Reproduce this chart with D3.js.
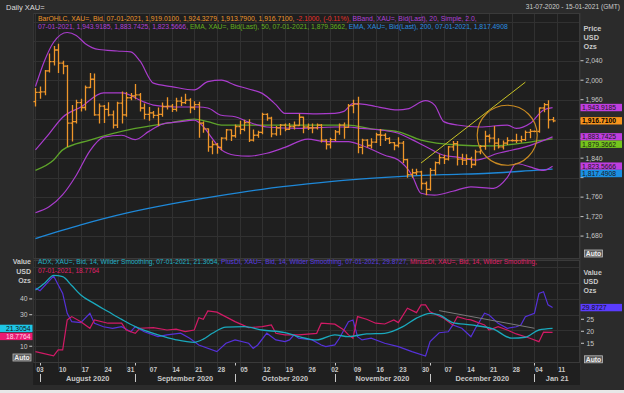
<!DOCTYPE html>
<html><head><meta charset="utf-8">
<script src="https://cdn.jsdelivr.net/npm/d3@7"></script>
<style>
html,body{margin:0;padding:0;background:#2b2b2b;}
svg{display:block;}
text{font-family:"Liberation Sans",Arial,sans-serif;}
</style></head>
<body><svg id="c" width="624" height="393"></svg>
<script>
// ---------------- DATA ----------------
const barOpen  = [1956,1975,1976,2019,2038,2062,2035,2029,1912,1915,1954,1944,1985,2002,1929,1947,1940,1929,1908,1953,1929,1964,1968,1970,1943,1930,1933,1928,1930,1946,1947,1940,1957,1954,1959,1944,1950,1912,1900,1863,1868,1862,1881,1898,1886,1905,1899,1913,1877,1887,1893,1930,1922,1890,1902,1908,1899,1905,1907,1924,1904,1902,1902,1908,1877,1868,1878,1894,1908,1903,1948,1951,1862,1877,1866,1873,1888,1887,1880,1872,1866,1871,1837,1806,1810,1812,1788,1776,1815,1831,1841,1838,1863,1870,1838,1836,1839,1827,1853,1864,1885,1881,1871,1863,1871,1876,1876,1876,1878,1893,1895,1895,1943,1950,1919.01];
const barHigh  = [1984,1987,2021,2055,2070,2075,2040,2031,1949,1960,1962,1989,2015,2014,1952,1949,1955,1938,1956,1977,1976,1974,1992,1974,1952,1945,1937,1944,1954,1965,1951,1964,1966,1972,1963,1957,1956,1915,1901,1876,1871,1883,1900,1899,1909,1917,1919,1920,1899,1896,1933,1932,1925,1906,1910,1911,1912,1915,1931,1925,1911,1911,1911,1910,1879,1882,1898,1911,1913,1951,1960,1966,1880,1879,1881,1892,1900,1891,1883,1873,1883,1875,1839,1818,1818,1814,1792,1820,1833,1848,1847,1865,1875,1875,1849,1848,1843,1857,1867,1896,1889,1906,1881,1876,1883,1879,1890,1886,1897,1900,1897,1944,1953,1959,1924.33];
const barLow   = [1946,1962,1969,2016,2030,2015,2012,1863,1874,1911,1936,1938,1984,1927,1911,1912,1926,1901,1902,1911,1925,1959,1961,1936,1920,1917,1922,1906,1925,1940,1935,1936,1947,1951,1932,1939,1882,1892,1853,1848,1849,1856,1876,1875,1882,1889,1895,1873,1874,1882,1889,1917,1883,1886,1887,1895,1898,1899,1906,1891,1898,1891,1899,1872,1858,1860,1875,1888,1880,1902,1932,1850,1848,1862,1860,1871,1865,1875,1869,1856,1862,1830,1800,1800,1805,1775,1764,1773,1805,1827,1828,1835,1855,1825,1826,1826,1820,1825,1848,1857,1872,1856,1860,1858,1867,1874,1871,1872,1875,1881,1893,1892,1934,1901,1913.79];
const barClose = [1975,1976,2019,2038,2062,2035,2029,1912,1915,1954,1944,1985,2002,1929,1947,1940,1929,1908,1953,1929,1964,1968,1970,1943,1930,1933,1928,1930,1946,1947,1940,1957,1954,1959,1944,1950,1912,1900,1863,1868,1862,1881,1898,1886,1905,1899,1913,1877,1887,1893,1930,1922,1890,1902,1908,1899,1905,1907,1924,1904,1902,1902,1908,1877,1868,1878,1894,1908,1903,1948,1951,1862,1877,1866,1873,1888,1887,1880,1872,1866,1871,1837,1806,1810,1812,1788,1776,1815,1831,1841,1838,1863,1870,1838,1836,1839,1827,1853,1864,1885,1881,1871,1863,1871,1876,1876,1876,1878,1893,1895,1895,1943,1950,1918.81,1916.71];

const bbUpper = [["2020-07-31",1987],["2020-08-04",2040],["2020-08-06",2078],["2020-08-11",2098],["2020-08-13",2092],["2020-08-17",2075],["2020-08-20",2063],["2020-08-26",2060],["2020-08-31",2058],["2020-09-02",2040],["2020-09-07",1994],["2020-09-11",1987],["2020-09-18",1980],["2020-09-23",1997],["2020-09-28",2000],["2020-10-01",1990],["2020-10-06",1982],["2020-10-09",1973],["2020-10-14",1950],["2020-10-16",1932],["2020-10-21",1932],["2020-10-27",1931],["2020-11-02",1932],["2020-11-04",1936],["2020-11-06",1952],["2020-11-11",1950],["2020-11-13",1946],["2020-11-20",1939],["2020-11-24",1941],["2020-11-30",1958],["2020-12-02",1949],["2020-12-04",1915],["2020-12-09",1908],["2020-12-16",1904],["2020-12-24",1908],["2020-12-28",1901],["2020-12-31",1911],["2021-01-05",1939],["2021-01-07",1943.9185]];
const bbMiddle = [["2020-07-31",1857],["2020-08-05",1890],["2020-08-10",1924],["2020-08-14",1945],["2020-08-21",1974],["2020-08-27",1974],["2020-09-03",1955],["2020-09-07",1949],["2020-09-14",1945],["2020-09-21",1945],["2020-09-23",1943],["2020-09-28",1928],["2020-10-01",1925],["2020-10-06",1914],["2020-10-12",1904],["2020-10-21",1901],["2020-11-02",1904],["2020-11-05",1904],["2020-11-10",1901],["2020-11-16",1898],["2020-11-20",1891],["2020-11-25",1878],["2020-11-30",1864],["2020-12-04",1846],["2020-12-09",1842],["2020-12-15",1836],["2020-12-22",1850],["2020-12-30",1863],["2021-01-07",1883.7425]];
const bbLower = [["2020-07-31",1728],["2020-08-05",1740],["2020-08-10",1765],["2020-08-13",1805],["2020-08-18",1855],["2020-08-21",1883],["2020-08-27",1887],["2020-09-01",1878],["2020-09-04",1895],["2020-09-09",1910],["2020-09-15",1915],["2020-09-18",1918],["2020-09-22",1905],["2020-09-24",1880],["2020-09-28",1857],["2020-10-01",1846],["2020-10-06",1844],["2020-10-12",1850],["2020-10-16",1862],["2020-10-23",1879],["2020-10-29",1874],["2020-11-05",1874],["2020-11-10",1866],["2020-11-17",1846],["2020-11-20",1836],["2020-11-25",1805],["2020-11-27",1768],["2020-12-02",1764],["2020-12-08",1772],["2020-12-14",1781],["2020-12-21",1778],["2020-12-24",1800],["2020-12-28",1829],["2020-12-31",1822],["2021-01-05",1815],["2021-01-07",1823.5666]];
const ema50 = [["2020-07-31",1815],["2020-08-06",1836],["2020-08-10",1857],["2020-08-18",1877],["2020-09-01",1901],["2020-09-11",1913],["2020-09-18",1920],["2020-09-23",1915],["2020-09-28",1908],["2020-10-06",1908],["2020-10-21",1908],["2020-11-05",1908],["2020-11-12",1900],["2020-11-20",1894],["2020-11-27",1877],["2020-12-09",1867],["2020-12-18",1865],["2020-12-31",1873],["2021-01-07",1879.3662]];
const ema200 = [["2020-07-31",1675],["2020-08-14",1703],["2020-08-28",1727],["2020-09-11",1746],["2020-09-25",1762],["2020-10-09",1776],["2020-10-23",1787],["2020-11-06",1796],["2020-11-20",1802],["2020-12-04",1806],["2020-12-18",1809],["2021-01-01",1815],["2021-01-07",1817.4908]];

const adx = [["2020-07-31",45.7],["2020-08-04",50],["2020-08-06",55],["2020-08-10",54.1],["2020-08-12",48.5],["2020-08-14",42.5],["2020-08-19",37],["2020-08-24",32],["2020-08-27",27],["2020-09-01",22.4],["2020-09-08",17.2],["2020-09-14",14.1],["2020-09-18",12.5],["2020-09-22",14.5],["2020-09-24",18.2],["2020-09-29",22.1],["2020-10-05",22.4],["2020-10-09",20.3],["2020-10-16",18.6],["2020-10-21",16.1],["2020-10-27",14],["2020-11-02",17.2],["2020-11-05",16.1],["2020-11-11",17.8],["2020-11-17",18.2],["2020-11-23",22.4],["2020-11-26",27.8],["2020-12-01",30.9],["2020-12-03",29.9],["2020-12-08",25],["2020-12-14",23.5],["2020-12-21",20.8],["2020-12-25",15.1],["2020-12-30",15.7],["2021-01-04",20.3],["2021-01-07",21.3054]];
const plusDI = [["2020-07-31",38],["2020-08-03",36.9],["2020-08-06",43],["2020-08-10",35.8],["2020-08-11",27.5],["2020-08-12",24],["2020-08-14",23.6],["2020-08-18",27.5],["2020-08-19",23.3],["2020-08-21",21.9],["2020-08-25",21.25],["2020-08-27",21.9],["2020-08-31",19.8],["2020-09-01",21.9],["2020-09-03",19.8],["2020-09-08",17.75],["2020-09-10",18.5],["2020-09-15",19.2],["2020-09-17",17.1],["2020-09-21",14.3],["2020-09-25",11.5],["2020-09-29",15],["2020-10-01",16.4],["2020-10-06",15],["2020-10-07",12.9],["2020-10-08",14.3],["2020-10-12",19.2],["2020-10-14",16.4],["2020-10-16",15.7],["2020-10-19",16.4],["2020-10-20",18.5],["2020-10-21",17.1],["2020-10-26",16.4],["2020-10-28",14.3],["2020-10-29",13.6],["2020-11-02",14.3],["2020-11-03",17.1],["2020-11-05",24],["2020-11-06",24.7],["2020-11-09",17.75],["2020-11-10",16.4],["2020-11-12",17.1],["2020-11-17",15],["2020-11-20",13.6],["2020-11-25",11.5],["2020-11-30",9.7],["2020-12-01",15.7],["2020-12-03",19.4],["2020-12-07",19.8],["2020-12-08",22.6],["2020-12-10",21.25],["2020-12-14",17.75],["2020-12-15",21.25],["2020-12-17",27.5],["2020-12-18",26.8],["2020-12-22",23.3],["2020-12-24",21.25],["2020-12-28",21.9],["2020-12-29",22.6],["2020-12-30",26.1],["2021-01-01",27.5],["2021-01-04",35.8],["2021-01-05",36.5],["2021-01-06",31],["2021-01-07",29.8727]];
const minusDI = [["2020-07-31",6.6],["2020-08-06",3.9],["2020-08-07",7.7],["2020-08-10",7.7],["2020-08-11",26.7],["2020-08-12",28.8],["2020-08-14",25.6],["2020-08-18",21.4],["2020-08-19",26.7],["2020-08-24",24.6],["2020-08-27",24.6],["2020-08-28",20.3],["2020-09-01",18.2],["2020-09-02",21.4],["2020-09-07",21.8],["2020-09-10",20.3],["2020-09-14",20.8],["2020-09-16",19.3],["2020-09-18",20.3],["2020-09-21",28.1],["2020-09-22",27.1],["2020-09-23",32.4],["2020-09-25",31.6],["2020-10-01",25.6],["2020-10-06",21.8],["2020-10-09",22.4],["2020-10-13",23.5],["2020-10-14",18.2],["2020-10-16",17.2],["2020-10-21",17.2],["2020-10-27",18.2],["2020-10-28",24.6],["2020-11-02",24],["2020-11-04",20.3],["2020-11-05",17.2],["2020-11-06",15.1],["2020-11-09",28.8],["2020-11-11",27.1],["2020-11-13",24.6],["2020-11-17",24.1],["2020-11-19",26.7],["2020-11-20",25],["2020-11-24",34.1],["2020-11-26",31.3],["2020-11-27",36.2],["2020-11-30",36.2],["2020-12-01",31.9],["2020-12-04",27.8],["2020-12-08",23.5],["2020-12-09",28.8],["2020-12-11",27.1],["2020-12-14",26.7],["2020-12-17",23.5],["2020-12-18",20.3],["2020-12-22",22.4],["2020-12-24",20.3],["2020-12-28",17.8],["2020-12-31",15.1],["2021-01-04",12.9],["2021-01-05",18.9],["2021-01-07",18.7764]];

const priceTicks = [1680,1720,1760,1800,1840,1880,1920,1960,2000,2040];
const leftDITicks = [10,20,30,40];
const rightDITicks = [15,20,25,30];
const monthLabels = ["August 2020","September 2020","October 2020","November 2020","December 2020","Jan 21"];
const trendUp = [["2020-11-27",1830],["2020-12-30",1996]];
const circleMark = ["2020-12-24",1887];
const diTrend = [["2020-12-03",32.6],["2021-01-01",21.4]];

// ---------------- LAYOUT ----------------
const svg = d3.select("#c");
const L = 33.2, R = 580, T1 = 13, B1 = 258, T2 = 260, B2 = 362;
const C = {orange:"#ee962a", red:"#e8302a", purple:"#a93ccc", green:"#5ea32a", blue:"#1e88d8",
  cyan:"#1aa9bd", violet:"#5531d9", pink:"#d21a66", grid:"#313131", text:"#c8c8c8"};
const fs = 6.8;

const fmt = d3.timeFormat("%Y-%m-%d");
const axisDays = d3.timeDay.range(new Date(2020,6,31), new Date(2021,0,16))
  .filter(d => d.getDay()!==0 && d.getDay()!==6).map(fmt);
const barDates = axisDays.slice(0, barClose.length);
const step = 4.536;
const x = d3.scaleBand().domain(axisDays).range([L, L + axisDays.length*step]).padding(0);
const xc = d => x(d) + x.bandwidth()/2;
const yP = d3.scaleLinear().domain([1635, 2138]).range([B1, T1]);
const yL = d3.scaleLinear().domain([0, 64.7]).range([B2, T2]);
const yR = d3.scaleLinear().domain([7.2, 49.7]).range([B2, T2]);

svg.append("rect").attr("width",624).attr("height",393).attr("fill","#2b2b2b");
svg.append("rect").attr("x",L).attr("y",T1).attr("width",R-L).attr("height",B1-T1).attr("fill","#1f1f1f");
svg.append("rect").attr("x",L).attr("y",T2).attr("width",R-L).attr("height",B2-T2).attr("fill","#1f1f1f");
svg.append("rect").attr("x",L).attr("y",B2).attr("width",R-L).attr("height",23).attr("fill","#1f1f1f");

const defs = svg.append("defs");
defs.append("clipPath").attr("id","cp1").append("rect").attr("x",L).attr("y",T1).attr("width",R-L).attr("height",B1-T1);
defs.append("clipPath").attr("id","cp2").append("rect").attr("x",L).attr("y",T2).attr("width",R-L).attr("height",B2-T2);

// grid
const mondays = axisDays.filter(d => new Date(d+"T00:00").getDay()===1);
const fridays = axisDays.filter(d => new Date(d+"T00:00").getDay()===5);
const gridG = svg.append("g").attr("stroke",C.grid).attr("stroke-width",1);
fridays.forEach(d => {
  gridG.append("line").attr("x1",Math.round(xc(d))+0.5).attr("x2",Math.round(xc(d))+0.5).attr("y1",T1).attr("y2",B2+8);
});
d3.range(1680,2138,40).forEach(v => gridG.append("line").attr("x1",L).attr("x2",R).attr("y1",Math.round(yP(v))+0.5).attr("y2",Math.round(yP(v))+0.5));
d3.range(10,64,10).forEach(v => gridG.append("line").attr("x1",L).attr("x2",R).attr("y1",Math.round(yL(v))+0.5).attr("y2",Math.round(yL(v))+0.5));

svg.append("rect").attr("x",L+0.5).attr("y",T1+0.5).attr("width",R-L-1).attr("height",B1-T1).attr("fill","none").attr("stroke","#3a3a3a");
svg.append("rect").attr("x",L+0.5).attr("y",T2+0.5).attr("width",R-L-1).attr("height",B2-T2).attr("fill","none").attr("stroke","#3a3a3a");

// ---------------- TOP PANEL ----------------
const topG = svg.append("g").attr("clip-path","url(#cp1)");
const lineP = d3.line().x(d => xc(d[0])).y(d => yP(d[1])).curve(d3.curveMonotoneX);
topG.append("path").datum(ema200).attr("d",lineP).attr("fill","none").attr("stroke",C.blue).attr("stroke-width",1.3);
topG.append("path").datum(ema50).attr("d",lineP).attr("fill","none").attr("stroke",C.green).attr("stroke-width",1.3);
[bbUpper,bbMiddle,bbLower].forEach(s => topG.append("path").datum(s).attr("d",lineP).attr("fill","none").attr("stroke",C.purple).attr("stroke-width",1.2));

const barsG = topG.append("g").attr("stroke",C.orange).attr("stroke-width",1.3);
barDates.forEach((d,i) => {
  const cx = Math.round(xc(d)) + 0.5;
  barsG.append("line").attr("x1",cx).attr("x2",cx).attr("y1",yP(barHigh[i])).attr("y2",yP(barLow[i]));
  barsG.append("line").attr("x1",cx-2.2).attr("x2",cx).attr("y1",yP(barOpen[i])).attr("y2",yP(barOpen[i]));
  barsG.append("line").attr("x1",cx).attr("x2",cx+2.2).attr("y1",yP(barClose[i])).attr("y2",yP(barClose[i]));
});
topG.append("line").attr("x1",xc(trendUp[0][0])).attr("y1",yP(trendUp[0][1])).attr("x2",xc(trendUp[1][0])).attr("y2",yP(trendUp[1][1]))
  .attr("stroke","#c9c425").attr("stroke-width",1);
topG.append("circle").attr("cx",xc(circleMark[0])).attr("cy",yP(circleMark[1])).attr("r",30)
  .attr("fill","none").attr("stroke","#c98a22").attr("stroke-width",1.2);

// ---------------- BOTTOM PANEL ----------------
const botG = svg.append("g").attr("clip-path","url(#cp2)");
const lineL = d3.line().x(d => xc(d[0])).y(d => yL(d[1]));
const lineR = d3.line().x(d => xc(d[0])).y(d => yR(d[1]));
botG.append("path").datum(plusDI).attr("d",lineR).attr("fill","none").attr("stroke",C.violet).attr("stroke-width",1.2);
botG.append("path").datum(minusDI).attr("d",lineL).attr("fill","none").attr("stroke",C.pink).attr("stroke-width",1.2);
botG.append("path").datum(adx).attr("d",d3.line().x(d => xc(d[0])).y(d => yL(d[1])).curve(d3.curveMonotoneX)).attr("fill","none").attr("stroke",C.cyan).attr("stroke-width",1.3);
botG.append("line").attr("x1",xc(diTrend[0][0])).attr("y1",yL(diTrend[0][1])).attr("x2",xc(diTrend[1][0])).attr("y2",yL(diTrend[1][1]))
  .attr("stroke","#7a7a7a").attr("stroke-width",1);

// ---------------- VALUE LABELS ----------------
const lastP = s => s[s.length-1][1];
function stack(items, gap){
  items.sort((a,b) => a.y - b.y);
  for (let i=1;i<items.length;i++) if (items[i].y < items[i-1].y + gap) items[i].y = items[i-1].y + gap;
  return items;
}
const LH = 7.4;
const topLabels = stack([
  {y:yP(lastP(bbUpper)), t:d3.format(",.4f")(lastP(bbUpper)), bg:"#c03ee0", fg:"#1a1a1a"},
  {y:yP(barClose[barClose.length-1]), t:d3.format(",.4f")(barClose[barClose.length-1]), bg:"#f7941d", fg:"#000", bold:true},
  {y:yP(lastP(bbMiddle)), t:d3.format(",.4f")(lastP(bbMiddle)), bg:"#c03ee0", fg:"#1a1a1a"},
  {y:yP(lastP(ema50)), t:d3.format(",.4f")(lastP(ema50)), bg:"#74c61c", fg:"#1a1a1a"},
  {y:yP(lastP(bbLower)), t:d3.format(",.4f")(lastP(bbLower)), bg:"#c03ee0", fg:"#1a1a1a"},
  {y:yP(lastP(ema200)), t:d3.format(",.4f")(lastP(ema200)), bg:"#1b90e4", fg:"#1a1a1a"}
], 7.35);
const leftLabels = stack([
  {y:yL(lastP(adx)), t:lastP(adx).toFixed(4), bg:"#1ec6e6", fg:"#111"},
  {y:yL(lastP(minusDI)), t:lastP(minusDI).toFixed(4), bg:"#ea1a72", fg:"#ffd8e6"}
], 8);
const rightLabels = [{y:yR(lastP(plusDI)), t:lastP(plusDI).toFixed(4), bg:"#5a3cff", fg:"#111"}];
const covered = (y, labels) => labels.some(l => Math.abs(l.y - y) < 6.3);

// ---------------- AXES ----------------
priceTicks.forEach(v => {
  const y = yP(v);
  svg.append("line").attr("x1",R+0.5).attr("x2",R+3.5).attr("y1",y).attr("y2",y).attr("stroke",C.text);
  if (!covered(y, topLabels))
    svg.append("text").attr("x",R+5.5).attr("y",y).attr("dy","0.35em").attr("font-size",fs).attr("fill",C.text).text(d3.format(",")(v));
});
["Price","USD","Ozs"].forEach((t,i) => svg.append("text").attr("x",R+3.5).attr("y",28+i*9.2).attr("dy","0.35em")
  .attr("font-size",7.3).attr("font-weight","bold").attr("fill",C.text).text(t));

leftDITicks.forEach(v => {
  const y = yL(v);
  svg.append("line").attr("x1",L-4).attr("x2",L-1).attr("y1",y).attr("y2",y).attr("stroke",C.text);
  if (!covered(y, leftLabels))
    svg.append("text").attr("x",27.5).attr("y",y).attr("dy","0.35em").attr("text-anchor","end").attr("font-size",fs).attr("fill",C.text).text(v);
});
rightDITicks.forEach(v => {
  const y = yR(v);
  svg.append("line").attr("x1",R+1).attr("x2",R+4).attr("y1",y).attr("y2",y).attr("stroke",C.text);
  if (!covered(y, rightLabels))
    svg.append("text").attr("x",R+6.5).attr("y",y).attr("dy","0.35em").attr("font-size",fs).attr("fill",C.text).text(v);
});
["Value","USD","Ozs"].forEach((t,i) => {
  svg.append("text").attr("x",31).attr("y",262+i*9.3).attr("dy","0.35em").attr("text-anchor","end")
    .attr("font-size",7).attr("font-weight","bold").attr("fill",C.text).text(t);
  svg.append("text").attr("x",R+3.5).attr("y",272.3+i*9).attr("dy","0.35em")
    .attr("font-size",7).attr("font-weight","bold").attr("fill",C.text).text(t);
});

function drawLabels(items, x0, w, anchor){
  items.forEach(it => {
    svg.append("rect").attr("x",x0).attr("y",it.y-LH/2).attr("width",w).attr("height",LH).attr("fill",it.bg);
    svg.append("text").attr("x",anchor==="end"? x0+w-2 : x0+1.5).attr("y",it.y).attr("dy","0.36em").attr("font-size",fs)
      .attr("text-anchor",anchor==="end"?"end":"start")
      .attr("font-weight",it.bold?"bold":"normal").attr("fill",it.fg).text(it.t);
  });
}
drawLabels(topLabels, R+0.5, 41.5, "start");
drawLabels(leftLabels, 0, 32.5, "end");
drawLabels(rightLabels, R+0.5, 41.5, "start");

function autoBtn(x0,y0){
  svg.append("rect").attr("x",x0+0.5).attr("y",y0+0.5).attr("width",18).attr("height",7).attr("fill","#5c5c5c").attr("stroke","#bbb").attr("stroke-width",0.8);
  svg.append("text").attr("x",x0+9.5).attr("y",y0+4).attr("dy","0.36em").attr("text-anchor","middle").attr("font-size",6.8).attr("font-weight","bold").attr("fill","#eee").text("Auto");
}
autoBtn(584,249.5); autoBtn(584,355.3); autoBtn(12.5,353.5);

mondays.forEach(d => {
  svg.append("text").attr("x",xc(d)).attr("y",370).attr("dy","0.35em").attr("text-anchor","middle")
    .attr("font-size",6.5).attr("font-weight","bold").attr("fill",C.text).text(d.slice(8,10));
});
const monthStarts = axisDays.filter((d,i) => i>0 && d.slice(5,7)!==axisDays[i-1].slice(5,7));
const sepX = monthStarts.map(xc);
sepX.forEach(sx => {
  svg.append("line").attr("x1",Math.round(sx)+0.5).attr("x2",Math.round(sx)+0.5).attr("y1",374).attr("y2",382).attr("stroke",C.text);
  svg.append("line").attr("x1",Math.round(sx)+0.5).attr("x2",Math.round(sx)+0.5).attr("y1",363).attr("y2",365.5).attr("stroke",C.text);
});
const bounds = sepX.concat([R]);
monthLabels.forEach((m,i) => {
  svg.append("text").attr("x",(bounds[i]+bounds[i+1])/2).attr("y",378).attr("dy","0.35em").attr("text-anchor","middle")
    .attr("font-size",7.3).attr("font-weight","bold").attr("fill",C.text).text(m);
});

svg.append("text").attr("x",6).attr("y",7).attr("dy","0.35em").attr("font-size",7.5).attr("fill","#ddd").text("Daily XAU=");
svg.append("text").attr("x",620).attr("y",7).attr("dy","0.35em").attr("text-anchor","end").attr("font-size",6.6).attr("fill","#ccc").text("31-07-2020 - 15-01-2021 (GMT)");

function legend(y, size, parts){
  const t = svg.append("text").attr("x",38).attr("y",y).attr("dy","0.35em").attr("font-size",size);
  parts.forEach(p => t.append("tspan").attr("fill",p[1]).text(p[0]));
}
legend(18.5, fs, [["BarOHLC, XAU=, Bid, 07-01-2021, 1,919.0100, 1,924.3279, 1,913.7900, 1,916.7100, ",C.orange],["-2.1000, (-0.11%), ",C.red],["BBand, XAU=, Bid(Last),  20, Simple, 2.0,","#b040d8"]]);
legend(27, fs, [["07-01-2021, 1,943.9185, 1,883.7425, 1,823.5666, ","#b040d8"],["EMA, XAU=, Bid(Last),  50, 07-01-2021, 1,879.3662, ","#62b01e"],["EMA, XAU=, Bid(Last),  200, 07-01-2021, 1,817.4908","#2a8ee0"]]);
legend(262, 6.6, [["ADX, XAU=, Bid,  14, Wilder Smoothing, 07-01-2021, 21.3054, ","#1fb2c6"],["PlusDI, XAU=, Bid,  14, Wilder Smoothing, 07-01-2021, 29.8727, ","#5a3ce0"],["MinusDI, XAU=, Bid,  14, Wilder Smoothing, ","#e0206a"]]);
legend(271, 6.6, [["07-01-2021, 18.7764","#e0206a"]]);

svg.append("rect").attr("x",0).attr("y",390).attr("width",624).attr("height",3).attr("fill","#e8e8e8");
</script></body></html>
